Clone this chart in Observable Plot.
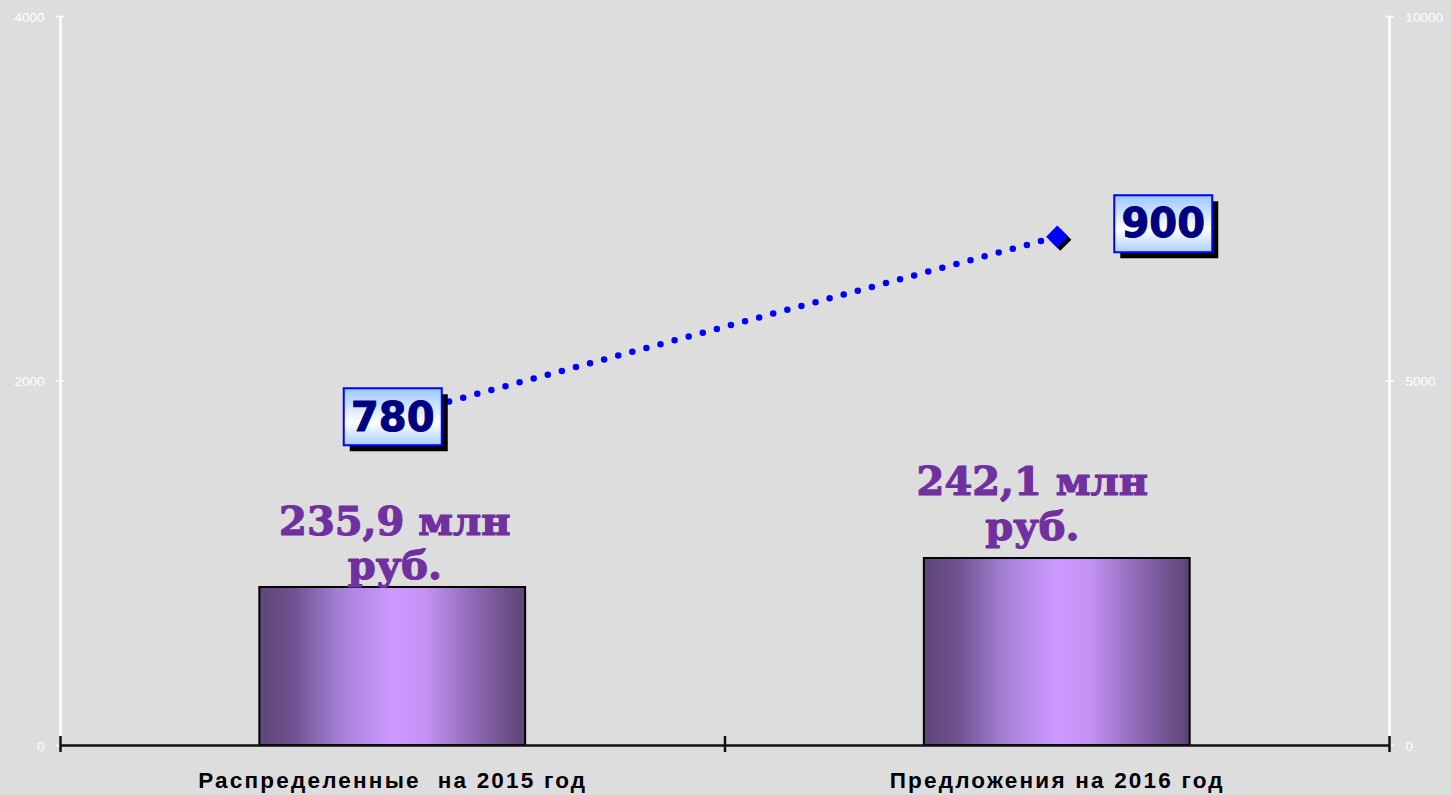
<!DOCTYPE html>
<html>
<head>
<meta charset="utf-8">
<script src="https://cdn.jsdelivr.net/npm/d3@7"></script>
<script src="https://cdn.jsdelivr.net/npm/@observablehq/plot@0.6"></script>
<style>
  html, body { margin: 0; padding: 0; background: #dddddd; }
  #chart svg { display: block; }
  .catlabel text { letter-spacing: 2.2px; }
</style>
</head>
<body>
<div id="chart"></div>
<script>
// ---- data ----
const categories = ["Распределенные  на 2015 год", "Предложения на 2016 год"];
const barValues = [867, 1026];                // left axis (0–4000)
const barLabels = ["235,9 млн\nруб.", "242,1 млн\nруб."];
const lineValues = [4510, 6980];              // right axis (0–10000)
const lineLabels = ["780", "900"];
const leftTicks = [0, 2000, 4000];
const rightTicks = [0, 5000, 10000];
const rightMax = 10000;
const leftMax = 4000;

// ---- derived tables ----
const k = leftMax / rightMax;
const bars = categories.map((c, i) => ({i, c, v: barValues[i], label: barLabels[i]}));
const pts = categories.map((c, i) => ({i, c, v: lineValues[i] * k, label: lineLabels[i]}));

const defs = () => {
  const d = d3.create("svg:defs");
  const bg = d.append("linearGradient").attr("id", "barGrad").attr("x1", 0).attr("x2", 1).attr("y1", 0).attr("y2", 0);
  [[0, "#5e4676"], [0.12, "#6e508c"], [0.3, "#a47fd4"], [0.5, "#cc99ff"], [0.62, "#c593f5"], [0.82, "#8a66b0"], [1, "#5c4474"]]
    .forEach(([o, c]) => bg.append("stop").attr("offset", o).attr("stop-color", c));
  const lg = d.append("linearGradient").attr("id", "boxGrad").attr("x1", 0).attr("x2", 0).attr("y1", 0).attr("y2", 1);
  [[0, "#99c6ff"], [0.6, "#ffffff"], [1, "#a8ceff"]]
    .forEach(([o, c]) => lg.append("stop").attr("offset", o).attr("stop-color", c));
  return d.node();
};

const boxSymbol = (w, h) => ({draw(ctx) { ctx.rect(-w / 2, -h / 2, w, h); }});
const box = boxSymbol(98, 57);

const lbl1 = pts.filter(d => d.i === 0);
const lbl2 = pts.filter(d => d.i === 1);
const tickFont = "Liberation Sans, Arial, sans-serif";

const plot = Plot.plot({
  width: 1451,
  height: 795,
  marginLeft: 60,
  marginRight: 62,
  marginTop: 16,
  marginBottom: 50,
  style: {background: "#dddddd", overflow: "visible"},
  x: {domain: [0, categories.length], axis: null},
  y: {domain: [0, leftMax], axis: null},
  marks: [
    defs,
    // left axis
    Plot.ruleX([0], {y1: 0, y2: leftMax, stroke: "white", strokeWidth: 2.5}),
    Plot.axisY({anchor: "left", ticks: leftTicks, tickSize: 8, dx: 4, tickFormat: () => "",
      stroke: "white", strokeWidth: 1.5, label: null}),
    Plot.text(leftTicks, {x: 0, y: d => d, text: d => String(d), textAnchor: "end", dx: -16, dy: 1,
      fill: "white", fontSize: 13.5, fontFamily: tickFont}),
    // right axis
    Plot.ruleX([categories.length], {y1: 0, y2: leftMax, stroke: "white", strokeWidth: 2.5}),
    Plot.axisY({anchor: "right", ticks: leftTicks, tickSize: 8, dx: -4, tickFormat: () => "",
      stroke: "white", strokeWidth: 1.5, label: null}),
    Plot.text(rightTicks, {x: categories.length, y: d => d * k, text: d => String(d), textAnchor: "start", dx: 16, dy: 1,
      fill: "white", fontSize: 13.5, fontFamily: tickFont}),
    // bars
    Plot.rect(bars, {x1: d => d.i + 0.3, x2: d => d.i + 0.7, y1: 0, y2: "v",
      fill: "url(#barGrad)", stroke: "black", strokeWidth: 2}),
    // bottom axis
    Plot.ruleY([0], {x1: 0, x2: categories.length, stroke: "#111", strokeWidth: 2.5}),
    Plot.axisX({ticks: d3.range(categories.length + 1), tickSize: 16, dy: -9, tickFormat: () => "",
      stroke: "#111", strokeWidth: 2.5, label: null}),
    // category labels
    Plot.text(bars, {x: d => d.i + 0.5, y: 0, text: "c", dy: 35, fontSize: 22.5, fontWeight: "bold",
      fill: "black", fontFamily: tickFont, className: "catlabel"}),
    // bar labels
    Plot.text(bars.filter(d => d.i === 0), {x: d => d.i + 0.5, y: "v", text: "label", lineAnchor: "bottom",
      dy: -8, dx: 2, lineHeight: 1.12, fontSize: 40, fontWeight: "bold", fill: "#7030a0",
      stroke: "#7030a0", strokeWidth: 1.2, fontFamily: "DejaVu Serif, serif"}),
    Plot.text(bars.filter(d => d.i === 1), {x: d => d.i + 0.5, y: "v", text: "label", lineAnchor: "bottom",
      dy: -19, dx: -25, lineHeight: 1.12, fontSize: 40, fontWeight: "bold", fill: "#7030a0",
      stroke: "#7030a0", strokeWidth: 1.2, fontFamily: "DejaVu Serif, serif"}),
    // dotted line
    Plot.line(pts, {x: d => d.i + 0.5, y: "v", stroke: "#0000ff", strokeWidth: 6.5,
      strokeDasharray: "0 14.6", strokeLinecap: "round"}),
    // diamond markers with shadow
    Plot.dot(pts, {x: d => d.i + 0.5, y: "v", symbol: "diamond2", r: 10, fill: "black", dx: 3, dy: 3}),
    Plot.dot(pts, {x: d => d.i + 0.5, y: "v", symbol: "diamond2", r: 10, fill: "#0000ff"}),
    // label boxes
    Plot.dot(lbl1, {x: d => d.i + 0.5, y: "v", symbol: box, r: 10, fill: "black", stroke: "none", dx: 6, dy: 6}),
    Plot.dot(lbl1, {x: d => d.i + 0.5, y: "v", symbol: box, r: 10, fill: "url(#boxGrad)", stroke: "#0000ff", strokeWidth: 2}),
    Plot.text(lbl1, {x: d => d.i + 0.5, y: "v", text: "label", fontSize: 40, fontWeight: "bold", fill: "#000080",
      stroke: "#000080", strokeWidth: 1, fontFamily: "DejaVu Sans, Verdana, sans-serif", dy: 1}),
    Plot.dot(lbl2, {x: d => d.i + 0.5, y: "v", symbol: box, r: 10, fill: "black", stroke: "none", dx: 112, dy: -7}),
    Plot.dot(lbl2, {x: d => d.i + 0.5, y: "v", symbol: box, r: 10, fill: "url(#boxGrad)", stroke: "#0000ff", strokeWidth: 2, dx: 106, dy: -13}),
    Plot.text(lbl2, {x: d => d.i + 0.5, y: "v", text: "label", fontSize: 40, fontWeight: "bold", fill: "#000080",
      stroke: "#000080", strokeWidth: 1, fontFamily: "DejaVu Sans, Verdana, sans-serif", dx: 106, dy: -12})
  ]
});
document.getElementById("chart").appendChild(plot);
</script>
</body>
</html>
